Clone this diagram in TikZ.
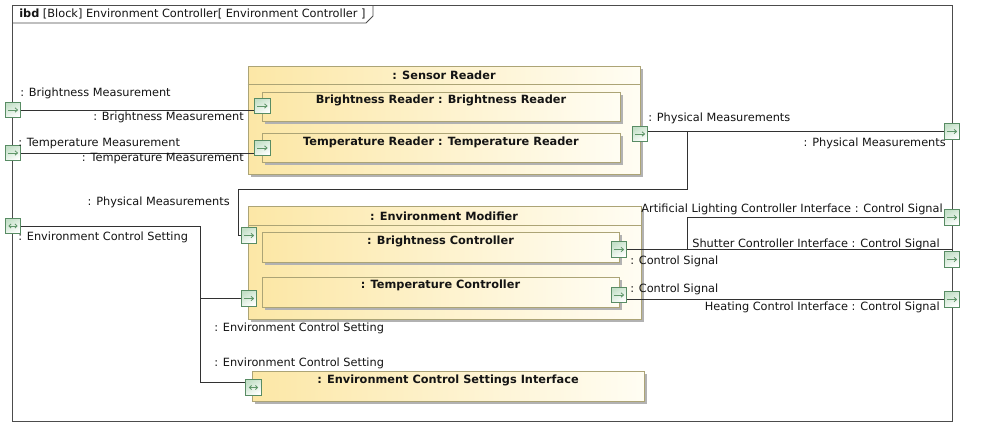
\documentclass[tikz,border=0pt]{standalone}
\usepackage{fontspec}
\setmainfont{DejaVu Sans}
\usetikzlibrary{fit,shadows,arrows.meta,calc}
\definecolor{blkL}{RGB}{252,231,166}
\definecolor{blkR}{RGB}{255,253,243}
\definecolor{blkbd}{RGB}{172,164,118}
\definecolor{portbd}{RGB}{88,140,100}
\definecolor{portT}{RGB}{196,224,200}
\definecolor{portar}{RGB}{95,150,105}
\definecolor{wire}{RGB}{50,50,50}
\definecolor{txt}{RGB}{20,20,20}
\begin{document}
\begin{tikzpicture}[x=0.75pt,y=-0.75pt,
  font=\fontsize{8.5}{10}\selectfont, text=txt,
  blk/.style={draw=blkbd, line width=0.7pt, left color=blkL, right color=blkR, inner sep=0pt,
    drop shadow={shadow xshift=2.2pt, shadow yshift=-2.2pt, fill=black!30, opacity=1}},
  ttl/.style={font=\fontsize{8.5}{10}\selectfont\bfseries, inner sep=0pt},
  lbl/.style={inner sep=0pt},
  wireline/.style={draw=wire, line width=0.7pt},
  port/.style={draw=portbd, line width=0.7pt, shading=axis, top color=portT, bottom color=white, shading angle=30,
    minimum size=11.6pt, inner sep=0pt,
    path picture={\draw[portar, line width=0.65pt, -{Straight Barb[length=1.8pt,width=3.4pt]}]
      ([xshift=-3.8pt]path picture bounding box.center) -- ([xshift=3.8pt]path picture bounding box.center);}},
  biport/.style={draw=portbd, line width=0.7pt, shading=axis, top color=portT, bottom color=white, shading angle=30,
    minimum size=11.6pt, inner sep=0pt,
    path picture={\draw[portar, line width=0.65pt, {Straight Barb[length=1.5pt,width=3pt]}-{Straight Barb[length=1.5pt,width=3pt]}]
      ([xshift=-3.4pt]path picture bounding box.center) -- ([xshift=3.4pt]path picture bounding box.center);}}
]
\useasboundingbox (0,0) rectangle (984,446);
\fill[white] (0,0) rectangle (984,446);

% frame
\draw[draw=black!70, line width=0.7pt] (12,5) rectangle (952,421);
\draw[draw=black!70, line width=0.7pt] (12,23) -- (366,23) -- (373,16) -- (373,5);
\node[lbl, anchor=west] (ttlF) at (19,14) {\textbf{ibd} [Block] Environment Controller[ Environment Controller ]};

% blocks
\node[blk, fit={(248,66)(640,174)}] (SR) {};
\draw[draw=blkbd, line width=0.7pt] (SR.west |- 0,84) -- (SR.east |- 0,84);
\node[ttl] (tSR) at (444,75) {: Sensor Reader};
\node[blk, fit={(262,92)(620,121)}] (BR) {};
\node[ttl] (tBR) at (441,100) {Brightness Reader : Brightness Reader};
\node[blk, fit={(262,133)(620,162)}] (TR) {};
\node[ttl] (tTR) at (441,142) {Temperature Reader : Temperature Reader};

\node[blk, fit={(248,206)(641,319)}] (EM) {};
\draw[draw=blkbd, line width=0.7pt] (EM.west |- 0,225) -- (EM.east |- 0,225);
\node[ttl] (tEM) at (444,216) {: Environment Modifier};
\node[blk, fit={(262,232)(619,262)}] (BC) {};
\node[ttl] (tBC) at (440.5,241) {: Brightness Controller};
\node[blk, fit={(262,277)(619,307)}] (TC) {};
\node[ttl] (tTC) at (440.5,285) {: Temperature Controller};

\node[blk, fit={(252,371)(644,401)}] (ESI) {};
\node[ttl] (tESI) at (448,380) {: Environment Control Settings Interface};

% ports (positions)
\coordinate (cBMo) at (13,110);
\coordinate (cBMi) at (262.5,106);
\coordinate (cTMo) at (13,153);
\coordinate (cTMi) at (262.5,148);
\coordinate (cSRo) at (640,134);
\coordinate (cPMo) at (952,131.5);
\coordinate (cEMi) at (249,235.5);
\coordinate (cEMs) at (249,298.5);
\coordinate (cBCo) at (619,249.5);
\coordinate (cTCo) at (619,295);
\coordinate (cESI) at (253.5,387.5);
\coordinate (cECS) at (13,226);
\coordinate (cAL) at (952,217.5);
\coordinate (cSH) at (952,259.5);
\coordinate (cHT) at (952,299.5);

% junction coordinates
\coordinate (j1) at (687,131.5);
\coordinate (pmB) at (238,189);
\coordinate (j2) at (687,249.5);
\coordinate (e1) at (200,226);

% wires
\draw[wireline] (cBMo) -- (cBMo -| cBMi);
\draw[wireline] (cTMo) -- (cTMo -| cTMi);
\draw[wireline] (cSRo |- cPMo) -- (cPMo);
\draw[wireline] (j1) |- (pmB) |- (cEMi);
\draw[wireline] (cECS) -- (e1) |- ([yshift=4pt]cESI);
\draw[wireline] (e1 |- cEMs) -- (cEMs);
\draw[wireline] (cBCo) -- (cBCo -| cSH) -- (cSH);
\draw[wireline] (cAL) -| (j2);
\draw[wireline] (cTCo |- cHT) -- (cHT);

% ports
\node[port] (pBMo) at (cBMo) {};
\node[port] (pBMi) at (cBMi) {};
\node[port] (pTMo) at (cTMo) {};
\node[port] (pTMi) at (cTMi) {};
\node[port] (pSRo) at (cSRo) {};
\node[port] (pPMo) at (cPMo) {};
\node[port] (pEMi) at (cEMi) {};
\node[port] (pEMs) at (cEMs) {};
\node[port] (pBCo) at (cBCo) {};
\node[port] (pTCo) at (cTCo) {};
\node[biport] (pESI) at (cESI) {};
\node[biport] (pECS) at (cECS) {};
\node[port] (pAL) at (cAL) {};
\node[port] (pSH) at (cSH) {};
\node[port] (pHT) at (cHT) {};

% labels
\node[lbl, anchor=west] (l1) at (20,93) {: Brightness Measurement};
\node[lbl, anchor=east] (l2) at (244,117) {: Brightness Measurement};
\node[lbl, anchor=west] (l3) at (18,144) {: Temperature Measurement};
\node[lbl, anchor=east] (l4) at (244,159) {: Temperature Measurement};
\node[lbl, anchor=west] (l5) at (648,118) {: Physical Measurements};
\node[lbl, anchor=east] (l6) at (946,143) {: Physical Measurements};
\node[lbl, anchor=east] (l7) at (230,202) {: Physical Measurements};
\node[lbl, anchor=west] (l8) at (18,237) {: Environment Control Setting};
\node[lbl, anchor=west] (l9) at (214,328) {: Environment Control Setting};
\node[lbl, anchor=west] (l10) at (214,363) {: Environment Control Setting};
\node[lbl, anchor=east] (l11) at (943,209) {Artificial Lighting Controller Interface : Control Signal};
\node[lbl, anchor=east] (l12) at (940,244) {Shutter Controller Interface : Control Signal};
\node[lbl, anchor=west] (l13) at (630,261) {: Control Signal};
\node[lbl, anchor=west] (l14) at (630,289) {: Control Signal};
\node[lbl, anchor=east] (l15) at (940,307) {Heating Control Interface : Control Signal};
\end{tikzpicture}
\end{document}
